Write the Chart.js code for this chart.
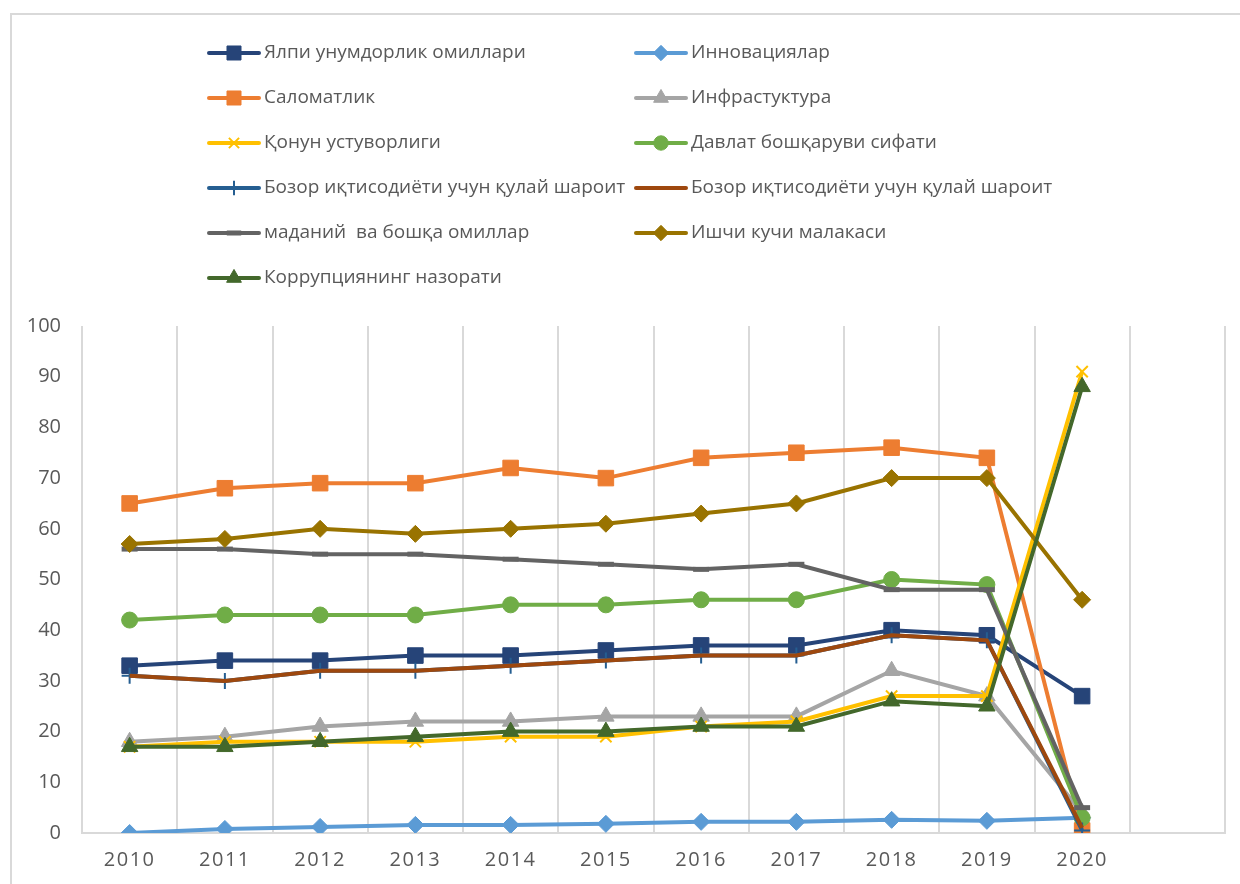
<!DOCTYPE html>
<html><head><meta charset="utf-8">
<script src="https://cdn.jsdelivr.net/npm/chart.js@4.4.0/dist/chart.umd.min.js"></script>
<style>html,body{margin:0;padding:0;background:#fff}#wrap{width:1240px;height:884px;position:relative}</style>
</head><body><div id="wrap"><canvas id="c" width="1240" height="884"></canvas></div>
<script>
// ---- data ----
const years = ['2010','2011','2012','2013','2014','2015','2016','2017','2018','2019','2020',''];
const seriesNames = [
  'Ялпи унумдорлик омиллари','Инновациялар','Саломатлик','Инфрастуктура',
  'Қонун устуворлиги','Давлат бошқаруви сифати','Бозор иқтисодиёти учун қулай шароит',
  'Бозор иқтисодиёти учун қулай шароит','маданий  ва бошқа омиллар','Ишчи кучи малакаси',
  'Коррупциянинг назорати'
];
const yalpi      = [33,34,34,35,35,36,37,37,40,39,27,null];
const innovation = [0,0.8,1.2,1.6,1.6,1.8,2.2,2.2,2.6,2.4,3,null];
const health     = [65,68,69,69,72,70,74,75,76,74,0.5,null];
const infra      = [18,19,21,22,22,23,23,23,32,27,4,null];
const law        = [17,18,18,18,19,19,21,22,27,27,91,null];
const governance = [42,43,43,43,45,45,46,46,50,49,3,null];
const market1    = [31,30,32,32,33,34,35,35,39,38,0.5,null];
const market2    = [31,30,32,32,33,34,35,35,39,38,1,null];
const culture    = [56,56,55,55,54,53,52,53,48,48,5,null];
const labour     = [57,58,60,59,60,61,63,65,70,70,46,null];
const corruption = [17,17,18,19,20,20,21,21,26,25,88,null];
const yTicks = [0,10,20,30,40,50,60,70,80,90,100];

// ---- styles ----
const seriesData = [yalpi,innovation,health,infra,law,governance,market1,market2,culture,labour,corruption];
const colors = ['#264478','#5B9BD5','#ED7D31','#A5A5A5','#FFC000','#70AD47','#255E91','#9E480E','#636363','#997300','#43682B'];
const pStyles = ['rect','rectRot','rect','triangle','crossRot','circle','cross',false,'line','rectRot','triangle'];
const pRadius = [11,8.5,11,9.5,8,8,8,0,8,8.5,9.5];
const pBorder = [1,1,1,1,2,1,2,0,5,1,1];
const FONT = "'Open Sans', 'Noto Sans', sans-serif";
const TXT = '#595959';

const N = seriesData.length;
const datasets = seriesData.map((d,i)=>({
  label: seriesNames[i], data: d,
  borderColor: colors[i], backgroundColor: colors[i],
  borderWidth: 4, tension: 0,
  pointStyle: pStyles[i], pointRadius: pRadius[i], pointHoverRadius: pRadius[i],
  pointBackgroundColor: colors[i], pointBorderColor: colors[i], pointBorderWidth: pBorder[i],
  order: N - i
}));

const framePlugin = {
  id:'frame',
  beforeDraw(chart){
    const ctx = chart.ctx;
    ctx.save();
    ctx.fillStyle = '#fff'; ctx.fillRect(0,0,chart.width,chart.height);
    ctx.strokeStyle = '#d9d9d9'; ctx.lineWidth = 2;
    ctx.strokeRect(11, 14, 1300, 1000);
    ctx.restore();
    const s = chart.scales.x;
    if (s && !s._ls) {
      const orig = s.drawLabels;
      s.drawLabels = function(a){ const c=this.ctx; c.save(); c.letterSpacing='1.5px'; orig.call(this,a); c.restore(); };
      s._ls = true;
    }
  }
};

const legendPlugin = {
  id:'customLegend',
  afterDraw(chart){
    const ctx = chart.ctx;
    ctx.save();
    chart.data.datasets.forEach((ds,i)=>{
      const col = i % 2, row = Math.floor(i/2);
      const x0 = col ? 636 : 209;
      const y = 53 + row*45;
      ctx.strokeStyle = ds.borderColor; ctx.lineWidth = 4; ctx.lineCap='round';
      ctx.beginPath(); ctx.moveTo(x0, y); ctx.lineTo(x0+50, y); ctx.stroke();
      if (ds.pointStyle && Chart.helpers && Chart.helpers.drawPoint) {
        ctx.fillStyle = ds.pointBackgroundColor; ctx.strokeStyle = ds.pointBorderColor;
        ctx.lineWidth = ds.pointBorderWidth; ctx.lineCap='butt';
        Chart.helpers.drawPoint(ctx, {pointStyle: ds.pointStyle, radius: ds.pointRadius*0.9, borderWidth: ds.pointBorderWidth, rotation:0}, x0+25, y);
      }
      ctx.fillStyle = TXT; ctx.font = "19px " + FONT; ctx.textBaseline='middle'; ctx.textAlign='left';
      ctx.fillText(ds.label, x0+55, y);
    });
    ctx.restore();
  }
};

new Chart(document.getElementById('c'), {
  type:'line',
  data:{ labels: years, datasets },
  options:{
    responsive:false, animation:false, devicePixelRatio:1,
    layout:{ padding:{ left:0, top:326, right:15, bottom:0 } },
    plugins:{ legend:{display:false}, tooltip:{enabled:false} },
    scales:{
      x:{
        type:'category', offset:true,
        grid:{ offset:true, color:'#d9d9d9', lineWidth:2, drawTicks:false },
        border:{ display:true, color:'#d9d9d9', width:2 },
        ticks:{ color:TXT, font:{family:FONT, size:20}, padding:15, maxRotation:0, autoSkip:false },
        afterFit(s){ s.height = 51; }
      },
      y:{
        min:0, max:100,
        afterBuildTicks(s){ s.ticks = yTicks.map(v=>({value:v})); },
        grid:{ display:false, drawTicks:false },
        border:{ display:false },
        ticks:{ color:TXT, font:{family:FONT, size:20}, padding:21 },
        afterFit(s){ s.width = 82; }
      }
    }
  },
  plugins:[framePlugin, legendPlugin]
});
</script></body></html>
